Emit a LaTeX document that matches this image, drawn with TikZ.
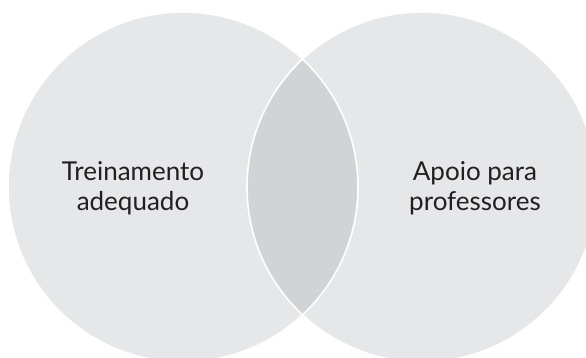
\documentclass[tikz,border=0pt]{standalone}
\usepackage{fontspec}
\setmainfont{Lato}
\usetikzlibrary{positioning}
\definecolor{vennfill}{HTML}{E6E7E8}
\definecolor{lensfill}{HTML}{D1D3D4}
\definecolor{labelink}{HTML}{231F20}

\begin{document}
\begin{tikzpicture}[x=1pt, y=1pt,
    set/.style={circle, minimum size=350pt, inner sep=0pt, fill=vennfill},
    outline/.style={draw=white, line width=1.6pt},
    setlabel/.style={align=center, text=labelink, font=\fontsize{26}{30}\selectfont}]
    \clip (0,0) rectangle (586,358);
    \node[set] (train) at (183,171) {};
    \node[set] (support) at (422,171) {};
    % overlap of the two sets
    \begin{scope}
        \clip (train.center) circle (175);
        \fill[lensfill] (support.center) circle (175);
    \end{scope}
    \draw[outline] (train.center) circle (175);
    \draw[outline] (support.center) circle (175);
    \node[setlabel] (trainlabel) at ([xshift=-50pt, yshift=-1pt]train.center) {Treinamento\\adequado};
    \node[setlabel] (supportlabel) at ([xshift=53pt, yshift=-1pt]support.center) {Apoio para\\professores};
\end{tikzpicture}
\end{document}
